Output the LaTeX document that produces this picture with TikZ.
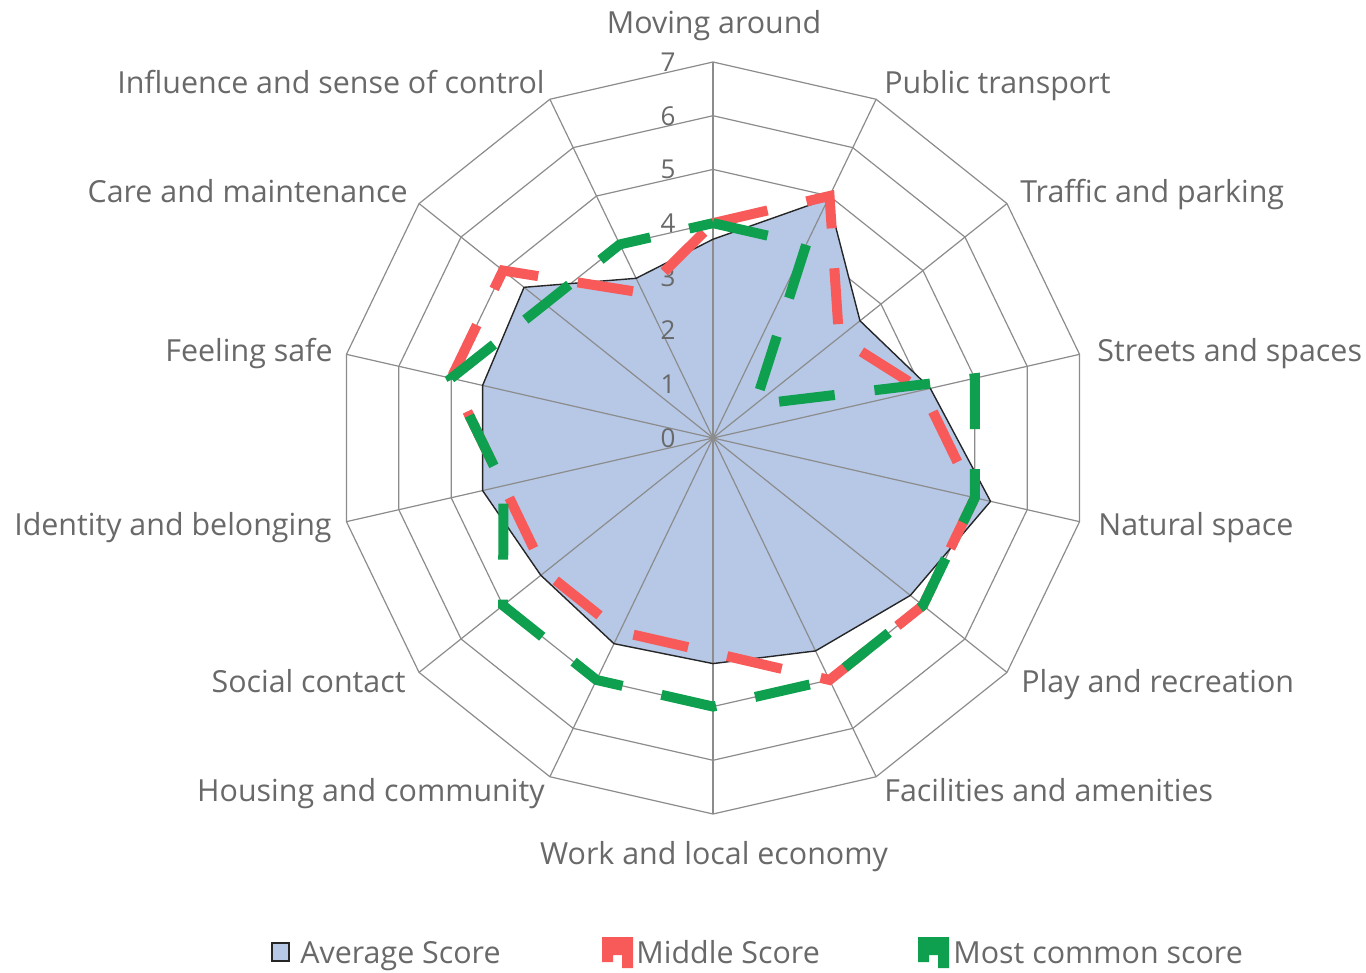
\documentclass[tikz,border=0pt]{standalone}
\usepackage{fontspec}
\setmainfont{Open Sans}
\definecolor{gridgray}{RGB}{140,140,140}
\definecolor{txtgray}{RGB}{105,105,105}
\definecolor{avgblue}{RGB}{182,200,230}
\definecolor{midred}{RGB}{248,90,90}
\definecolor{modegreen}{RGB}{14,160,78}
\begin{document}
\begin{tikzpicture}[x=0.5pt,y=-0.5pt,
  grid/.style={draw=gridgray, line width=0.6pt},
  lbl/.style={text=txtgray, font=\fontsize{15.2}{18}\selectfont, inner sep=0pt},
  tick/.style={text=txtgray, font=\fontsize{13}{16}\selectfont, inner sep=0pt},
  avgarea/.style={fill=avgblue},
  avgline/.style={draw=black!85, line width=0.7pt, line join=round},
  serline/.style={line width=5pt, dash pattern=on 28pt off 20pt, line join=miter},
  midline/.style={serline, draw=midred},
  modeline/.style={serline, draw=modegreen}]
\useasboundingbox (0,0) rectangle (1366,973);
\fill[white] (0,0) rectangle (1366,973);
\def\u{53.714}
\begin{scope}[shift={(713,438)}, yscale=-1]
  % rings
  \foreach \j in {1,...,7} {
    \draw[grid] (90:{\j*\u}) \foreach \k in {1,...,13} { -- ({90-\k*360/14}:{\j*\u}) } -- cycle;
  }
  % data coordinates
  \foreach \v [count=\i from 0] in {3.7,4.95,3.5,4.15,5.3,4.7,4.4,4.2,4.25,4.1,4.4,4.4,4.5,3.3}
    \coordinate (b\i) at ({90-\i*360/14}:{\v*\u});
  \foreach \v [count=\i from 0] in {4,5,3,4,5,5,5,4,4,4,4,5,5,3}
    \coordinate (r\i) at ({90-\i*360/14}:{\v*\u});
  \foreach \v [count=\i from 0] in {4,4,1,5,5,5,5,5,5,5,4,5,4,4}
    \coordinate (g\i) at ({90-\i*360/14}:{\v*\u});
  % average area
  \path[avgarea] (b0) \foreach \i in {1,...,13} { -- (b\i) } -- cycle;
  % spokes
  \foreach \k in {0,...,13}
    \draw[grid] (0,0) -- ({90-\k*360/14}:{7*\u});
  \draw[avgline] (b0) \foreach \i in {1,...,13} { -- (b\i) } -- cycle;
  % ticks
  \foreach \j in {0,...,7}
    \node[tick] (t\j) at (-45,{\j*\u}) {\j};
  % series lines
  \draw[midline] (r0) \foreach \i in {1,...,13} { -- (r\i) } -- cycle;
  \draw[modeline] (g0) \foreach \i in {1,...,13} { -- (g\i) } -- cycle;
\end{scope}
% category labels
\node[lbl, anchor=base] (c0) at (714,34) {Moving around};
\node[lbl, anchor=base west] (c1) at (884,94) {Public transport};
\node[lbl, anchor=base west] (c2) at (1020,203) {Traffic and parking};
\node[lbl, anchor=base west] (c3) at (1097,362) {Streets and spaces};
\node[lbl, anchor=base west] (c4) at (1098,535) {Natural space};
\node[lbl, anchor=base west] (c5) at (1021,692) {Play and recreation};
\node[lbl, anchor=base west] (c6) at (884,801) {Facilities and amenities};
\node[lbl, anchor=base] (c7) at (714,864) {Work and local economy};
\node[lbl, anchor=base east] (c8) at (545,801) {Housing and community};
\node[lbl, anchor=base east] (c9) at (406,692) {Social contact};
\node[lbl, anchor=base east] (c10) at (332,535) {Identity and belonging};
\node[lbl, anchor=base east] (c11) at (333,362) {Feeling safe};
\node[lbl, anchor=base east] (c12) at (408,203) {Care and maintenance};
\node[lbl, anchor=base east] (c13) at (545,94) {Influence and sense of control};
% legend
\draw[fill=avgblue, draw=black!85, line width=0.7pt] (272,943) rectangle (289,961);
\node[lbl, anchor=base west] (l1) at (300,963) {Average Score};
\fill[midred] (602,937) -- (633,937) -- (633,968) -- (622,968) -- (622,955) -- (613,955) -- (613,962) -- (602,962) -- cycle;
\node[lbl, anchor=base west] (l2) at (636,963) {Middle Score};
\fill[modegreen] (918,937) -- (949,937) -- (949,968) -- (938,968) -- (938,955) -- (929,955) -- (929,962) -- (918,962) -- cycle;
\node[lbl, anchor=base west] (l3) at (953,963) {Most common score};
\end{tikzpicture}
\end{document}
